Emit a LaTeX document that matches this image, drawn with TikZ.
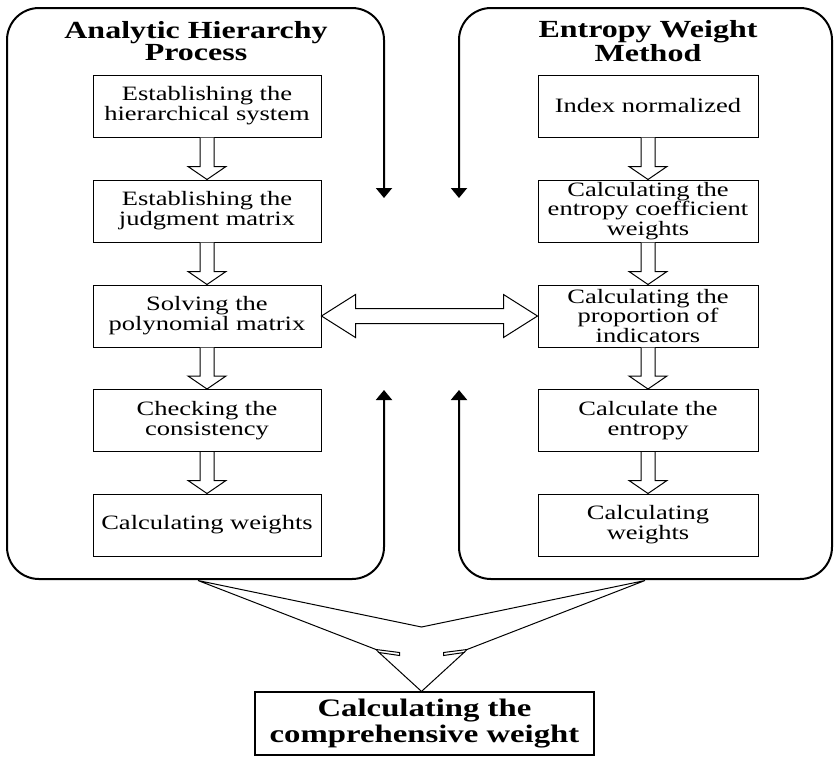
\documentclass[tikz,border=0pt]{standalone}
\usepackage{fontspec}
\setmainfont{Liberation Serif}[FakeStretch=1.3]
\usetikzlibrary{arrows.meta,calc}
\begin{document}
\begin{tikzpicture}[x=0.5pt,y=-0.5pt,
  stepbox/.style={draw,line width=0.5pt,minimum height=31pt,inner sep=0pt,
    align=center,font=\fontsize{10.2}{9.9}\selectfont},
  ahpbox/.style={stepbox,minimum width=114pt},
  ewmbox/.style={stepbox,minimum width=110pt},
  headline/.style={align=center,inner sep=0pt,font=\fontsize{12.3}{11}\selectfont\bfseries},
  finalbox/.style={draw,line width=0.6pt,minimum width=169.5pt,minimum height=31.5pt,
    inner sep=0pt,align=center,font=\fontsize{12.6}{13.4}\selectfont\bfseries},
  frame/.style={line width=1pt,rounded corners=16pt,
    arrows={Triangle[width=8pt,length=5pt]-Triangle[width=8pt,length=5pt]}},
  hollow/.style={draw,line width=0.5pt,fill=white,line join=miter},
]
\useasboundingbox (0,0) rectangle (836,757);

% ---- process steps ----
\node[ahpbox] (a1) at (207,106)   {Establishing the\\hierarchical system};
\node[ahpbox] (a2) at (207,211)   {Establishing the\\judgment matrix};
\node[ahpbox] (a3) at (207,316)   {Solving the\\polynomial matrix};
\node[ahpbox] (a4) at (207,420.5) {Checking the\\consistency};
\node[ahpbox] (a5) at (207,525)   {Calculating weights};

\node[ewmbox] (e1) at (648,106)   {Index normalized};
\node[ewmbox] (e2) at (648,211)   {Calculating the\\entropy coefficient\\weights};
\node[ewmbox] (e3) at (648,316)   {Calculating the\\proportion of\\indicators};
\node[ewmbox] (e4) at (648,420.5) {Calculate the\\entropy};
\node[ewmbox] (e5) at (648,525)   {Calculating\\weights};

\node[headline] (ahpT) at (196,41) {Analytic Hierarchy\\Process};
\node[headline] (ewmT) at (648,41) {Entropy Weight\\Method};

\node[finalbox] (fin) at (424.5,723.5) {Calculating the\\comprehensive weight};

% ---- group frames, open on the inner side, ending in arrow tips ----
\coordinate (aTop) at (384,198);
\coordinate (aBot) at (384,390);
\coordinate (eTop) at (459,198);
\coordinate (eBot) at (459,390);
\draw[frame] (aBot) -- (384,579) -- (7,579) -- (7,8) -- (384,8) -- (aTop);
\draw[frame] (eBot) -- (459,579) -- (832,579) -- (832,8) -- (459,8) -- (eTop);

% ---- hollow block arrows between steps ----
\newcommand\blockdown[2]{%
  \draw[hollow] ($(#1.south)+(-7,0)$) -- ($(#2.north)+(-7,-13)$)
    -- ($(#2.north)+(-19,-13)$) -- (#2.north) -- ($(#2.north)+(19,-13)$)
    -- ($(#2.north)+(7,-13)$) -- ($(#1.south)+(7,0)$);}
\blockdown{a1}{a2}
\blockdown{a2}{a3}
\blockdown{a3}{a4}
\blockdown{a4}{a5}
\blockdown{e1}{e2}
\blockdown{e2}{e3}
\blockdown{e3}{e4}
\blockdown{e4}{e5}

% ---- two-headed block arrow between the methods ----
\draw[hollow] (a3.east) -- ($(a3.east)+(34,-21.5)$) -- ($(a3.east)+(34,-7.5)$)
  -- ($(e3.west)+(-34,-7.5)$) -- ($(e3.west)+(-34,-21.5)$) -- (e3.west)
  -- ($(e3.west)+(-34,21.5)$) -- ($(e3.west)+(-34,7.5)$)
  -- ($(a3.east)+(34,7.5)$) -- ($(a3.east)+(34,21.5)$) -- cycle;

% ---- converging arrow into the final step ----
\coordinate (tl) at (198,580.5);
\coordinate (tr) at (645,580.5);
\coordinate (apex) at (421.5,627);
\coordinate (tip) at ($(fin.north)+(-3,0)$);
\coordinate (lA) at (376,649.5);
\coordinate (lB) at (399.5,652.5);
\coordinate (lC) at (399.5,655.5);
\coordinate (lD) at (379,652.5);
\coordinate (rA) at (467,649.5);
\coordinate (rB) at (443.5,652.5);
\coordinate (rC) at (443.5,655.5);
\coordinate (rD) at (464,652.5);
\draw[line width=0.5pt,line join=miter] (tl) -- (lA) -- (lB) -- (lC) -- (lD) -- (tip)
  -- (rD) -- (rC) -- (rB) -- (rA) -- (tr) -- (apex) -- cycle;
\draw[line width=0.5pt] (lA) -- (lD) (rA) -- (rD);
\end{tikzpicture}
\end{document}
